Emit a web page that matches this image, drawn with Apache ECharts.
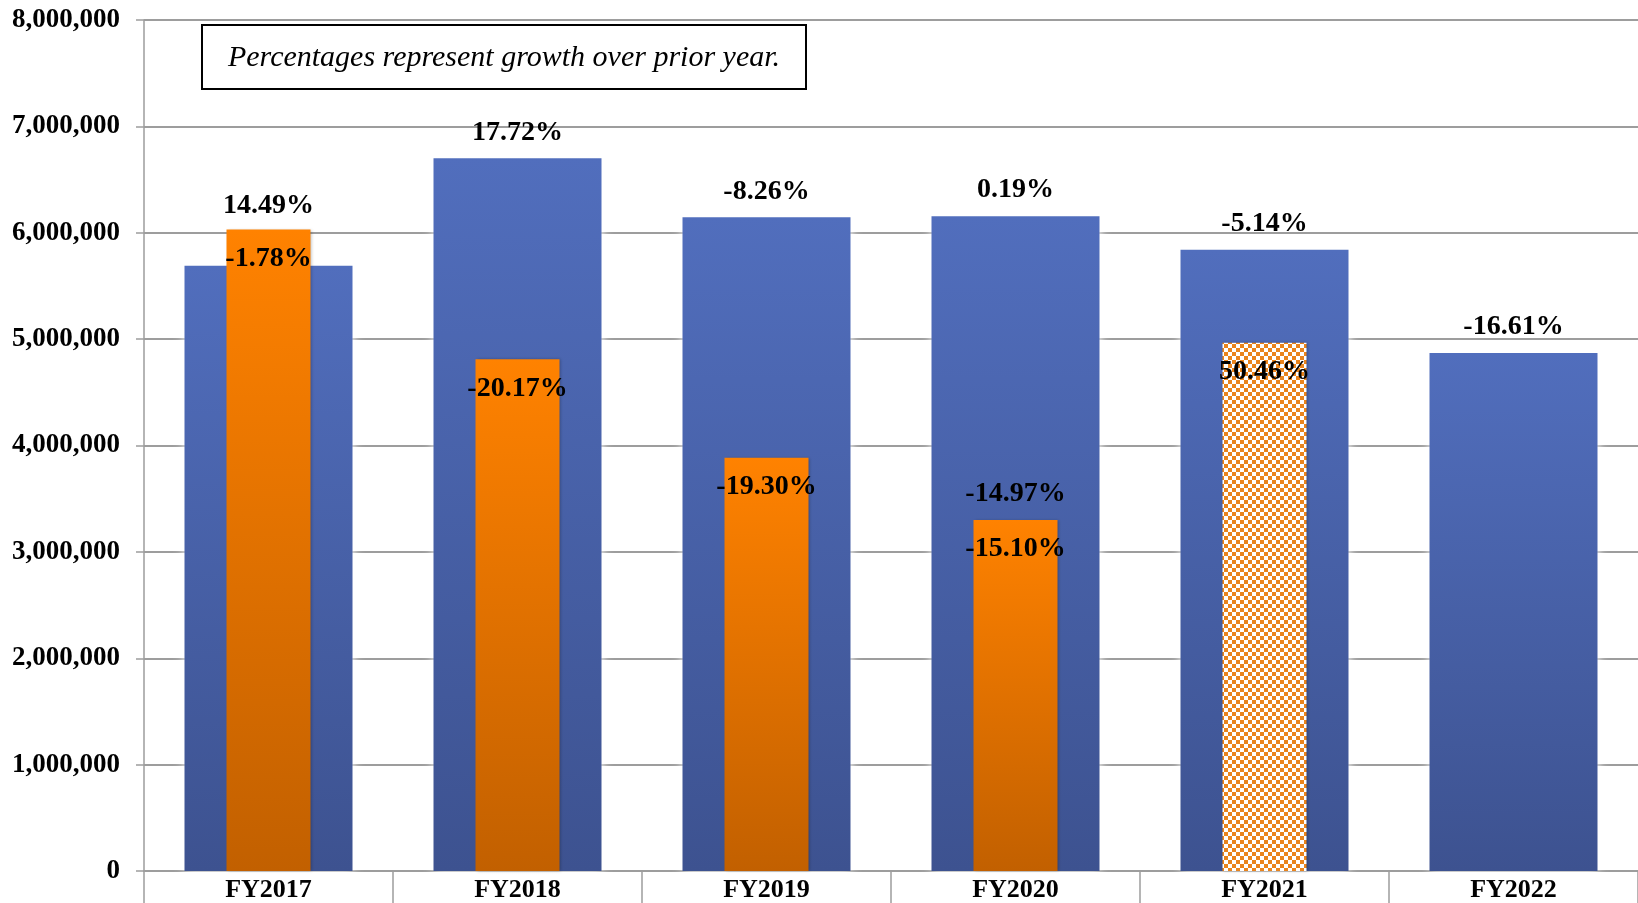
<!DOCTYPE html>
<html>
<head>
<meta charset="utf-8">
<title>Fiscal year totals</title>
<script src="https://cdn.jsdelivr.net/npm/echarts@6.0.0/dist/echarts.min.js"></script>
<style>
  html, body { margin: 0; padding: 0; background: #ffffff; }
  #chart { width: 1638px; height: 903px; }
</style>
</head>
<body>
<div id="chart"></div>
<script>
// Fiscal years on the category axis
const categories = ['FY2017', 'FY2018', 'FY2019', 'FY2020', 'FY2021', 'FY2022'];

// Wide blue bars: yearly totals and their growth over the prior year
const totalValues = [5690000, 6700000, 6145000, 6155000, 5840000, 4870000];
const totalGrowth = ['14.49%', '17.72%', '-8.26%', '0.19%', '-5.14%', '-16.61%'];

// Narrow orange bars: subset totals and their growth over the prior year
const subsetValues = [6030000, 4810000, 3885000, 3300000, 4965000, null];
const subsetGrowth = ['-1.78%', '-20.17%', '-19.30%', '-15.10%', '50.46%', ''];

// Second FY2020 subset figure, shown as a label above the orange bar
const altValues = [null, null, null, 3305000, null, null];
const altGrowth = ['', '', '', '-14.97%', '', ''];

// Value axis ticks
const yMin = 0, yMax = 8000000, yStep = 1000000;

const serif = '"Liberation Serif", "DejaVu Serif", serif';
const gridGray = '#9d9d9d';

// Orange/white checkerboard used for the FY2021 subset bar
const checker = document.createElement('canvas');
checker.width = 8; checker.height = 8;
const cx = checker.getContext('2d');
cx.fillStyle = '#ffffff'; cx.fillRect(0, 0, 8, 8);
cx.fillStyle = '#ea841c'; cx.fillRect(0, 0, 4, 4); cx.fillRect(4, 4, 4, 4);

const blueFill = new echarts.graphic.LinearGradient(0, 0, 0, 1, [
  { offset: 0, color: '#516ebd' },
  { offset: 1, color: '#3d5290' }
]);
const orangeFill = new echarts.graphic.LinearGradient(0, 0, 0, 1, [
  { offset: 0, color: '#ff8200' },
  { offset: 1, color: '#c26000' }
]);

const valueLabel = {
  show: true,
  color: '#000000',
  fontFamily: serif,
  fontWeight: 'bold',
  fontSize: 28
};

const chart = echarts.init(document.getElementById('chart'), null, { renderer: 'canvas' });

chart.setOption({
  backgroundColor: '#ffffff',
  animation: false,
  grid: { left: 144, top: 20, right: -2, bottom: 32, containLabel: false },
  xAxis: [
    {
      type: 'category',
      data: categories,
      position: 'bottom',
      axisLine: { show: true, lineStyle: { color: gridGray, width: 2 } },
      axisTick: { show: true, length: 34, lineStyle: { color: gridGray, width: 1.5 } },
      axisLabel: { color: '#000000', fontFamily: serif, fontWeight: 'bold', fontSize: 26, margin: 6 },
      splitLine: { show: false }
    },
    {
      type: 'category',
      data: categories,
      show: false
    }
  ],
  yAxis: {
    type: 'value',
    min: yMin,
    max: yMax,
    interval: yStep,
    axisLine: { show: true, lineStyle: { color: gridGray, width: 1.5 } },
    axisTick: { show: true, length: 8, lineStyle: { color: gridGray, width: 1.5 } },
    axisLabel: {
      color: '#000000', fontFamily: serif, fontWeight: 'bold', fontSize: 27, margin: 24,
      formatter: v => v.toLocaleString('en-US')
    },
    splitLine: { show: true, lineStyle: { color: gridGray, width: 2 } }
  },
  series: [
    {
      name: 'Total',
      type: 'bar',
      xAxisIndex: 0,
      barWidth: 168,
      z: 2,
      data: totalValues.map((v, i) => i === 0 ? { value: v, label: { distance: 46 } } : v),
      itemStyle: { color: blueFill, shadowColor: 'rgba(255,255,255,1)', shadowBlur: 10 },
      label: Object.assign({}, valueLabel, {
        position: 'top', distance: 12,
        formatter: p => totalGrowth[p.dataIndex]
      })
    },
    {
      name: 'Subset',
      type: 'bar',
      xAxisIndex: 1,
      barWidth: 84,
      barGap: '-100%',
      z: 3,
      data: subsetValues.map((v, i) => i === 4 ? { value: v, itemStyle: { color: { image: checker, repeat: 'repeat' } } } : v),
      itemStyle: { color: orangeFill, shadowColor: 'rgba(0,0,0,0.25)', shadowBlur: 3, shadowOffsetX: 1 },
      label: Object.assign({}, valueLabel, {
        position: 'insideTop', distance: 15,
        formatter: p => subsetGrowth[p.dataIndex]
      })
    },
    {
      name: 'Subset (alt)',
      type: 'bar',
      xAxisIndex: 1,
      barWidth: 84,
      barGap: '-100%',
      z: 4,
      data: altValues,
      itemStyle: { color: 'rgba(0,0,0,0)' },
      label: Object.assign({}, valueLabel, {
        position: 'top', distance: 12,
        formatter: p => altGrowth[p.dataIndex]
      })
    }
  ],
  graphic: [
    {
      type: 'group',
      left: 201,
      top: 24,
      z: 10,
      children: [
        {
          type: 'rect',
          shape: { x: 0, y: 0, width: 604, height: 64 },
          style: { fill: '#ffffff', stroke: '#000000', lineWidth: 2 }
        },
        {
          type: 'text',
          x: 302,
          y: 33,
          style: {
            text: 'Percentages represent growth over prior year.',
            fill: '#000000',
            font: 'italic 30px "Liberation Serif", "DejaVu Serif", serif',
            align: 'center',
            verticalAlign: 'middle'
          }
        }
      ]
    }
  ]
});
</script>
</body>
</html>
